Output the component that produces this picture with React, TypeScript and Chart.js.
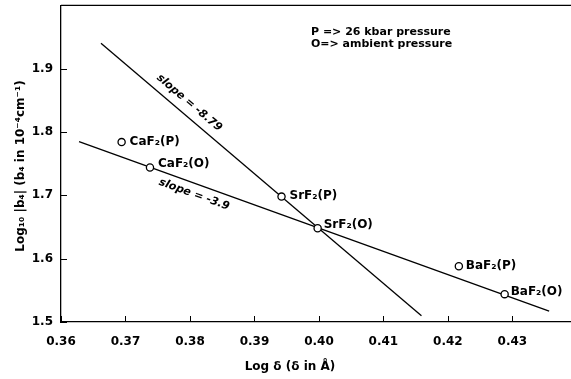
import React, { useEffect, useRef } from "react";
import { Chart, registerables } from "chart.js";

Chart.register(...registerables);

// ---- data ----
const compounds = ["CaF₂(P)", "CaF₂(O)", "SrF₂(P)", "SrF₂(O)", "BaF₂(P)", "BaF₂(O)"];
const logDelta = [0.3694, 0.3738, 0.3942, 0.3998, 0.4217, 0.4288];
const logB4 = [1.784, 1.744, 1.698, 1.648, 1.588, 1.544];

const steepLineX = [0.3662, 0.4159];
const steepLineY = [1.94, 1.51];
const shallowLineX = [0.3628, 0.4357];
const shallowLineY = [1.7846, 1.517];

const xTickValues = [0.36, 0.37, 0.38, 0.39, 0.4, 0.41, 0.42, 0.43];
const yTickValues = [1.5, 1.6, 1.7, 1.8, 1.9];
const xRange = [0.36, 0.4392];
const yRange = [1.5, 2.0];

const slopeLabels = ["slope = -8.79", "slope = -3.9"];
const slopeLabelX = [0.37988, 0.38065];
const slopeLabelY = [1.8459, 1.7013];

const legendLines = ["P => 26 kbar pressure", "O=> ambient pressure"];
const xTitle = "Log δ (δ in Å)";
const yTitle = "Log₁₀ |b₄| (b₄ in 10⁻⁴cm⁻¹)";

// label offsets in px (style)
const labelDx = [8, 8, 8, 6, 7, 6];
const labelDy = [0, -4, -1, -3, 0, -2];

const FONT = "'DejaVu Sans', sans-serif";
const CANVAS_W = 577;

export default function App() {
  const ref = useRef<HTMLCanvasElement | null>(null);

  useEffect(() => {
    if (!ref.current) return;
    const overlay = {
      id: "overlay",
      afterDraw(chart: any) {
        const ctx = chart.ctx as CanvasRenderingContext2D;
        const xs = chart.scales.x;
        const ys = chart.scales.y;
        const ca = chart.chartArea;
        ctx.save();
        ctx.strokeStyle = "#000";
        ctx.fillStyle = "#000";
        ctx.lineWidth = 1.3;
        // top border
        ctx.beginPath();
        ctx.moveTo(ca.left, ca.top);
        ctx.lineTo(ca.right, ca.top);
        ctx.stroke();
        // inward ticks
        ctx.lineWidth = 1;
        xTickValues.forEach((v) => {
          const px = Math.round(xs.getPixelForValue(v)) + 0.5;
          ctx.beginPath();
          ctx.moveTo(px, ca.bottom);
          ctx.lineTo(px, ca.bottom - 6);
          ctx.stroke();
        });
        yTickValues.forEach((v) => {
          const py = Math.round(ys.getPixelForValue(v)) + 0.5;
          ctx.beginPath();
          ctx.moveTo(ca.left, py);
          ctx.lineTo(ca.left + 6, py);
          ctx.stroke();
        });
        // titles
        ctx.font = `bold 12px ${FONT}`;
        ctx.textAlign = "center";
        ctx.textBaseline = "middle";
        ctx.fillText(xTitle, 290, 367);
        ctx.save();
        ctx.translate(21, 166);
        ctx.rotate(-Math.PI / 2);
        ctx.fillText(yTitle, 0, 0);
        ctx.restore();
        // legend text
        ctx.font = `bold 11px ${FONT}`;
        ctx.textAlign = "left";
        legendLines.forEach((t, i) => ctx.fillText(t, 311, 32 + i * 12));
        // point labels
        ctx.font = `bold 12px ${FONT}`;
        compounds.forEach((c, i) => {
          const px = xs.getPixelForValue(logDelta[i]);
          const py = ys.getPixelForValue(logB4[i]);
          ctx.fillText(c, px + labelDx[i], py + labelDy[i]);
        });
        // slope labels along lines
        const lines = [
          [steepLineX, steepLineY],
          [shallowLineX, shallowLineY],
        ];
        ctx.font = `italic bold 11px ${FONT}`;
        ctx.textAlign = "center";
        slopeLabels.forEach((t, i) => {
          const [lx, ly] = lines[i];
          const ang = Math.atan2(
            ys.getPixelForValue(ly[1]) - ys.getPixelForValue(ly[0]),
            xs.getPixelForValue(lx[1]) - xs.getPixelForValue(lx[0])
          );
          ctx.save();
          ctx.translate(xs.getPixelForValue(slopeLabelX[i]), ys.getPixelForValue(slopeLabelY[i]));
          ctx.rotate(ang);
          ctx.fillText(t, 0, 0);
          ctx.restore();
        });
        ctx.restore();
      },
    };

    const chart = new Chart(ref.current, {
      type: "scatter",
      data: {
        datasets: [
          {
            data: logDelta.map((x, i) => ({ x, y: logB4[i] })),
            pointRadius: 3.6,
            pointBorderWidth: 1.3,
            pointBackgroundColor: "#fff",
            pointBorderColor: "#000",
            showLine: false,
            order: 0,
          },
          {
            data: steepLineX.map((x, i) => ({ x, y: steepLineY[i] })),
            showLine: true,
            borderColor: "#000",
            borderWidth: 1.3,
            pointRadius: 0,
            order: 1,
          },
          {
            data: shallowLineX.map((x, i) => ({ x, y: shallowLineY[i] })),
            showLine: true,
            borderColor: "#000",
            borderWidth: 1.3,
            pointRadius: 0,
            order: 1,
          },
        ],
      },
      options: {
        animation: false,
        responsive: false,
        layout: { padding: { top: 4, right: 0, left: 0, bottom: 0 } },
        plugins: { legend: { display: false }, tooltip: { enabled: false } },
        scales: {
          x: {
            type: "linear",
            min: xRange[0],
            max: xRange[1],
            afterBuildTicks: (s: any) => {
              s.ticks = xTickValues.map((v) => ({ value: v }));
            },
            afterFit: (s: any) => {
              s.height = 57;
              s.paddingLeft = 0;
              s.paddingRight = 0;
            },
            grid: { display: false, drawTicks: false },
            border: { display: true, color: "#000", width: 1.3 },
            ticks: {
              padding: 13,
              color: "#000",
              font: { family: "DejaVu Sans", size: 12, weight: "bold" },
              maxRotation: 0,
              autoSkip: false,
              callback: (v: any) => Number(v).toFixed(2),
            },
          },
          y: {
            type: "linear",
            min: yRange[0],
            max: yRange[1],
            afterBuildTicks: (s: any) => {
              s.ticks = yTickValues.map((v) => ({ value: v }));
            },
            afterFit: (s: any) => {
              s.width = 61;
              s.paddingTop = 0;
              s.paddingBottom = 0;
            },
            grid: { display: false, drawTicks: false },
            border: { display: true, color: "#000", width: 1.3 },
            ticks: {
              padding: 8,
              color: "#000",
              font: { family: "DejaVu Sans", size: 12, weight: "bold" },
              autoSkip: false,
              callback: (v: any) => Number(v).toFixed(1),
            },
          },
        },
      },
      plugins: [overlay],
    } as any);
    return () => chart.destroy();
  }, []);

  return (
    <div style={{ position: "fixed", left: 0, top: 0, width: 571, height: 379, overflow: "hidden", background: "#fff" }}>
      <canvas ref={ref} width={CANVAS_W} height={379} style={{ width: CANVAS_W, height: 379, display: "block" }} />
    </div>
  );
}
